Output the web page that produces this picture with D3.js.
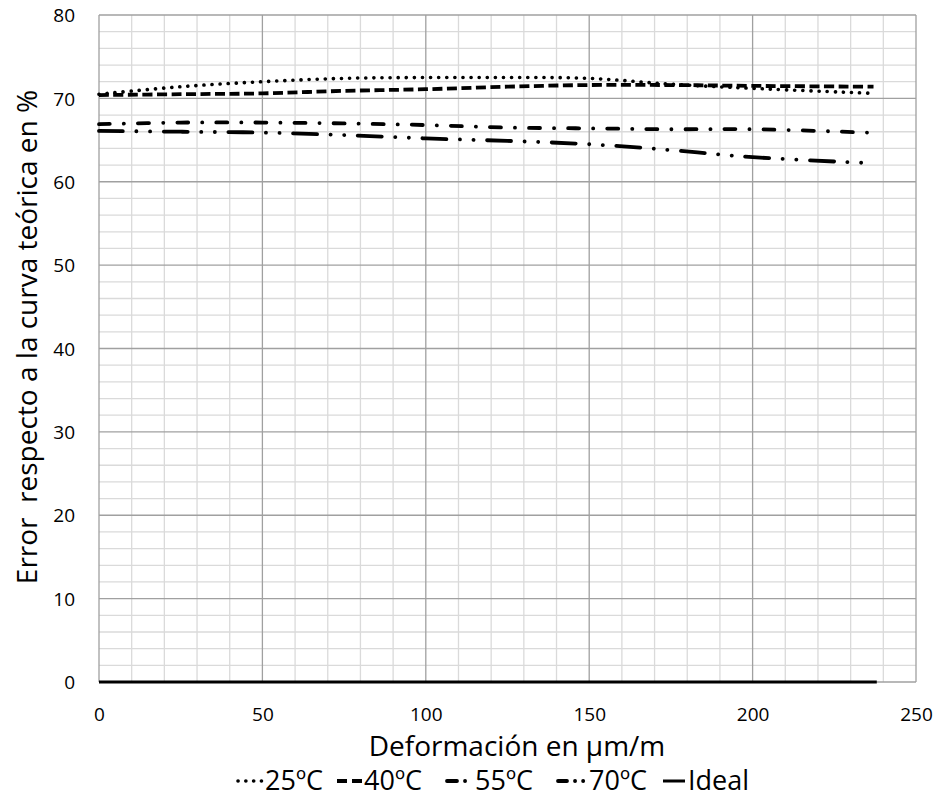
<!DOCTYPE html>
<html>
<head>
<meta charset="utf-8">
<script src="https://cdn.jsdelivr.net/npm/d3@7"></script>
<style>
  html, body { margin: 0; padding: 0; background: #fff; }
  svg { display: block; font-family: "Open Sans", "Noto Sans", sans-serif; }
</style>
</head>
<body>
<svg id="chart" width="943" height="798"></svg>
<script>
// ---- data ----
const xs25 = [0, 25, 50, 75, 100, 125, 150, 175, 200, 237];
const v25  = [70.5, 71.4, 72.0, 72.4, 72.5, 72.5, 72.4, 71.7, 71.2, 70.6];
const xs40 = [0, 25, 50, 75, 100, 125, 150, 175, 200, 237];
const v40  = [70.4, 70.5, 70.6, 70.9, 71.1, 71.4, 71.6, 71.6, 71.5, 71.4];
const xs55 = [0, 25, 50, 75, 100, 125, 150, 175, 200, 235];
const v55  = [66.9, 67.1, 67.1, 67.0, 66.8, 66.5, 66.4, 66.3, 66.3, 65.9];
const xs70 = [0, 25, 50, 75, 100, 125, 150, 175, 200, 235];
const v70  = [66.1, 66.0, 65.9, 65.6, 65.2, 64.9, 64.5, 63.8, 62.95, 62.25];
const xsIdeal = [0, 238];
const vIdeal  = [0, 0];
const seriesNames = ["25ºC", "40ºC", "55ºC", "70ºC", "Ideal"];
const xTicks = [0, 50, 100, 150, 200, 250];
const yTicks = [0, 10, 20, 30, 40, 50, 60, 70, 80];
const xTitle = "Deformación en μm/m";
const yTitle = "Error\u00a0 respecto a la curva teórica en %";

// ---- layout ----
const svg = d3.select("#chart");
const x = d3.scaleLinear().domain([0, 250]).range([99, 916]);
const y = d3.scaleLinear().domain([0, 80]).range([682, 15]);

const styles = [
  { dash: "0.1,8",  cap: "round", w: 3.6 },
  { dash: "10,4.5", cap: "butt",  w: 3.8 },
  { dash: "11,14,0.1,14", cap: "round", w: 3.8 },
  { dash: "24,13.5,0.1,13.5,0.1,13.5", cap: "round", w: 3.8 },
  { dash: null, cap: "butt", w: 3 }
];
const series = [
  xs25.map((d, i) => [d, v25[i]]),
  xs40.map((d, i) => [d, v40[i]]),
  xs55.map((d, i) => [d, v55[i]]),
  xs70.map((d, i) => [d, v70[i]]),
  xsIdeal.map((d, i) => [d, vIdeal[i]])
];

// grid
const g = svg.append("g");
const minorX = d3.range(0, 251, 10).filter(d => d % 50 !== 0);
const minorY = d3.range(0, 81, 2).filter(d => d % 10 !== 0);
const majorX = d3.range(0, 251, 50);
const majorY = d3.range(0, 81, 10);
g.selectAll(".mx").data(minorX).join("line")
  .attr("x1", d => x(d)).attr("x2", d => x(d))
  .attr("y1", y(0)).attr("y2", y(80))
  .attr("stroke", "#dadada").attr("stroke-width", 1.3);
g.selectAll(".my").data(minorY).join("line")
  .attr("x1", x(0)).attr("x2", x(250))
  .attr("y1", d => y(d)).attr("y2", d => y(d))
  .attr("stroke", "#dadada").attr("stroke-width", 1.3);
g.selectAll(".Mx").data(majorX).join("line")
  .attr("x1", d => x(d)).attr("x2", d => x(d))
  .attr("y1", y(0)).attr("y2", y(80))
  .attr("stroke", "#a0a0a0").attr("stroke-width", 1.3);
g.selectAll(".My").data(majorY).join("line")
  .attr("x1", x(0)).attr("x2", x(250))
  .attr("y1", d => y(d)).attr("y2", d => y(d))
  .attr("stroke", "#a0a0a0").attr("stroke-width", 1.3);

// axes (labels only)
const xAxis = d3.axisBottom(x).tickValues(xTicks).tickSize(0).tickPadding(0);
const yAxis = d3.axisLeft(y).tickValues(yTicks).tickSize(0).tickPadding(0);
const gx = svg.append("g").attr("transform", "translate(0,707.5)").call(xAxis);
gx.select(".domain").remove();
gx.selectAll("text").attr("font-size", 19).attr("fill", "#000")
  .attr("font-family", "Open Sans").attr("dy", "0.71em");
const gy = svg.append("g").attr("transform", "translate(75,0)").call(yAxis);
gy.select(".domain").remove();
gy.selectAll("text").attr("font-size", 19).attr("fill", "#000")
  .attr("font-family", "Open Sans").attr("dy", "0.35em");

// lines
const line = d3.line().x(d => x(d[0])).y(d => y(d[1])).curve(d3.curveCatmullRom.alpha(0.5));
series.forEach((s, i) => {
  svg.append("path").datum(s)
    .attr("d", line)
    .attr("fill", "none")
    .attr("stroke", "#000")
    .attr("stroke-width", styles[i].w)
    .attr("stroke-linecap", styles[i].cap)
    .attr("stroke-dasharray", styles[i].dash);
});

// titles
svg.append("text").attr("x", 517).attr("y", 756)
  .attr("text-anchor", "middle").attr("font-size", 28).text(xTitle);
svg.append("text")
  .attr("transform", "translate(37,337) rotate(-90)")
  .attr("text-anchor", "middle").attr("font-size", 28).text(yTitle);

// legend
const legendPos = [
  { sx: 238, ex: 262, tx: 265 },
  { sx: 337, ex: 362, tx: 364 },
  { sx: 447, ex: 466, tx: 475 },
  { sx: 558, ex: 584, tx: 589 },
  { sx: 663, ex: 685, tx: 688 }
];
const legDash = ["0.1,7.7", "10,5", "10,8,0.1,20", "9,8,0.1,8,0.1,20", null];
seriesNames.forEach((name, i) => {
  const p = legendPos[i];
  svg.append("line")
    .attr("x1", p.sx).attr("x2", p.ex).attr("y1", 781).attr("y2", 781)
    .attr("stroke", "#000").attr("stroke-width", styles[i].w)
    .attr("stroke-linecap", i === 4 ? "butt" : styles[i].cap)
    .attr("stroke-dasharray", legDash[i]);
  svg.append("text").attr("x", p.tx).attr("y", 789.5)
    .attr("font-size", 27).text(name);
});
</script>
</body>
</html>
